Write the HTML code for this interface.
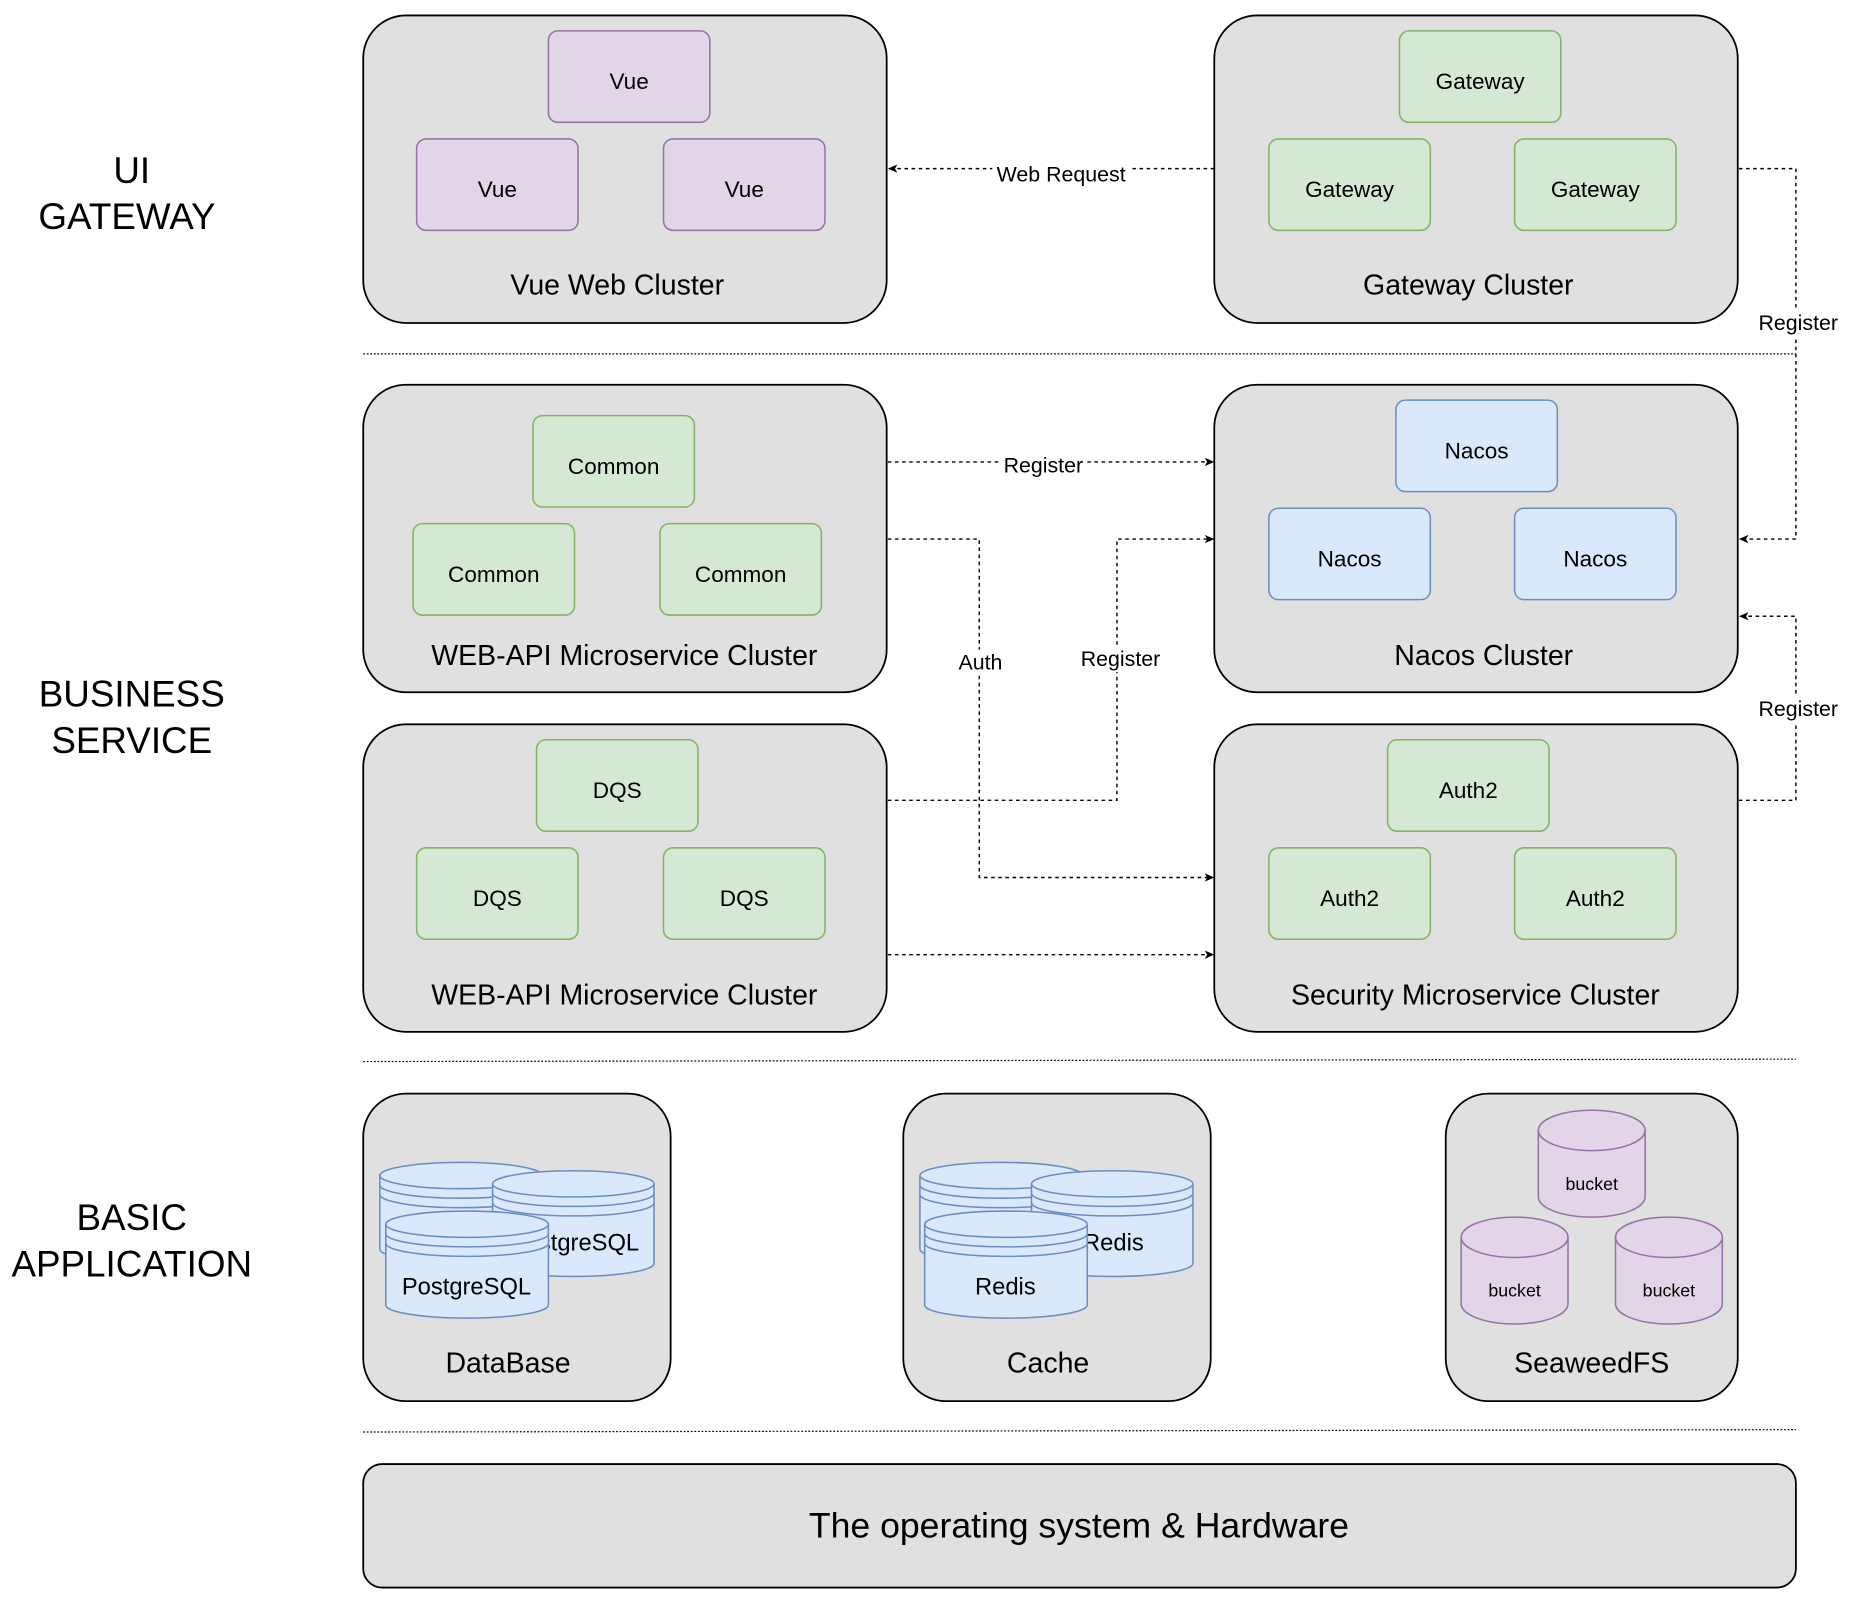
<!DOCTYPE html>
<html><head><meta charset="utf-8"><style>html,body{margin:0;padding:0;background:#fff}svg{display:block}</style></head><body>
<svg width="1860" height="1622" viewBox="0 0 1567 1366" preserveAspectRatio="none" xmlns="http://www.w3.org/2000/svg" font-family="'Liberation Sans', Arial, sans-serif">
<defs>
<marker id="a" markerWidth="8" markerHeight="8" refX="7" refY="4" orient="auto" markerUnits="userSpaceOnUse"><path d="M0,0.5 L8,4 L0,7.5 L2,4 Z" fill="#000"/></marker>
</defs>
<rect width="1567" height="1366" fill="#fff"/>
<g font-size="31" text-anchor="middle" fill="#000">
<text x="111" y="154">UI</text><text x="107" y="193">GATEWAY</text>
<text x="111" y="595">BUSINESS</text><text x="111" y="634">SERVICE</text>
<text x="111" y="1036">BASIC</text><text x="111" y="1075">APPLICATION</text>
</g>
<g stroke="#000" stroke-width="1" stroke-dasharray="1.5 1.5" fill="none">
<line x1="306" y1="298" x2="1513" y2="298"/>
<line x1="306" y1="894" x2="1513" y2="892"/>
<line x1="306" y1="1206" x2="1513" y2="1204"/>
</g>
<g fill="#e0e0e0" stroke="#000" stroke-width="1.5">
<rect x="306" y="13" width="441" height="259" rx="36"/>
<rect x="1023" y="13" width="441" height="259" rx="36"/>
<rect x="306" y="324" width="441" height="259" rx="36"/>
<rect x="1023" y="324" width="441" height="259" rx="36"/>
<rect x="306" y="610" width="441" height="259" rx="36"/>
<rect x="1023" y="610" width="441" height="259" rx="36"/>
<rect x="306" y="921" width="259" height="259" rx="36"/>
<rect x="761" y="921" width="259" height="259" rx="36"/>
<rect x="1218" y="921" width="246" height="259" rx="36"/>
<rect x="306" y="1233" width="1207" height="104" rx="16"/>
</g>
<g font-size="24" text-anchor="middle" fill="#000">
<text x="520" y="248">Vue Web Cluster</text>
<text x="1237" y="248">Gateway Cluster</text>
<text x="526" y="560">WEB-API Microservice Cluster</text>
<text x="1250" y="560">Nacos Cluster</text>
<text x="526" y="846">WEB-API Microservice Cluster</text>
<text x="1243" y="846">Security Microservice Cluster</text>
<text x="428" y="1156">DataBase</text>
<text x="883" y="1156">Cache</text>
<text x="1341" y="1156">SeaweedFS</text>
<text x="909" y="1295" font-size="30">The operating system &amp; Hardware</text>
</g>
<g stroke-width="1.3" font-size="19" text-anchor="middle">
<g fill="#e1d5e7" stroke="#9673a6">
<rect x="462" y="26" width="136" height="77" rx="8"/><rect x="351" y="117" width="136" height="77" rx="8"/><rect x="559" y="117" width="136" height="77" rx="8"/></g>
<g fill="#d5e8d4" stroke="#82b366">
<rect x="1179" y="26" width="136" height="77" rx="8"/><rect x="1069" y="117" width="136" height="77" rx="8"/><rect x="1276" y="117" width="136" height="77" rx="8"/>
<rect x="449" y="350" width="136" height="77" rx="8"/><rect x="348" y="441" width="136" height="77" rx="8"/><rect x="556" y="441" width="136" height="77" rx="8"/>
<rect x="452" y="623" width="136" height="77" rx="8"/><rect x="351" y="714" width="136" height="77" rx="8"/><rect x="559" y="714" width="136" height="77" rx="8"/>
<rect x="1169" y="623" width="136" height="77" rx="8"/><rect x="1069" y="714" width="136" height="77" rx="8"/><rect x="1276" y="714" width="136" height="77" rx="8"/></g>
<g fill="#dae8fc" stroke="#6c8ebf">
<rect x="1176" y="337" width="136" height="77" rx="8"/><rect x="1069" y="428" width="136" height="77" rx="8"/><rect x="1276" y="428" width="136" height="77" rx="8"/></g>
<g fill="#000" stroke="none">
<text x="530" y="75">Vue</text><text x="419" y="166">Vue</text><text x="627" y="166">Vue</text>
<text x="1247" y="75">Gateway</text><text x="1137" y="166">Gateway</text><text x="1344" y="166">Gateway</text>
<text x="517" y="399">Common</text><text x="416" y="490">Common</text><text x="624" y="490">Common</text>
<text x="1244" y="386">Nacos</text><text x="1137" y="477">Nacos</text><text x="1344" y="477">Nacos</text>
<text x="520" y="672">DQS</text><text x="419" y="763">DQS</text><text x="627" y="763">DQS</text>
<text x="1237" y="672">Auth2</text><text x="1137" y="763">Auth2</text><text x="1344" y="763">Auth2</text>
</g>
</g>
<!-- datastores -->
<g stroke="#6c8ebf" stroke-width="1.3">
<path fill="#dae8fc" d="M320,990 a68,11 0 0 1 137,0 v62 a68,11 0 0 1 -137,0 Z"/>
<path fill="none" d="M320,990 a68,11 0 0 0 137,0 M320,998 a68,11 0 0 0 137,0 M320,1006 a68,11 0 0 0 137,0"/>
<path fill="#dae8fc" d="M415,997 a68,11 0 0 1 136,0 v67 a68,11 0 0 1 -136,0 Z"/>
<path fill="none" d="M415,997 a68,11 0 0 0 136,0 M415,1005 a68,11 0 0 0 136,0 M415,1013 a68,11 0 0 0 136,0"/>
<path fill="#dae8fc" d="M775,990 a68,11 0 0 1 137,0 v62 a68,11 0 0 1 -137,0 Z"/>
<path fill="none" d="M775,990 a68,11 0 0 0 137,0 M775,998 a68,11 0 0 0 137,0 M775,1006 a68,11 0 0 0 137,0"/>
<path fill="#dae8fc" d="M869,997 a68,11 0 0 1 136,0 v67 a68,11 0 0 1 -136,0 Z"/>
<path fill="none" d="M869,997 a68,11 0 0 0 136,0 M869,1005 a68,11 0 0 0 136,0 M869,1013 a68,11 0 0 0 136,0"/>
</g>
<g font-size="20" text-anchor="middle" fill="#000"><text x="484" y="1053">PostgreSQL</text><text x="938" y="1053">Redis</text></g>
<g stroke="#6c8ebf" stroke-width="1.3">
<path fill="#dae8fc" d="M325,1031 a68,11 0 0 1 137,0 v68 a68,11 0 0 1 -137,0 Z"/>
<path fill="none" d="M325,1031 a68,11 0 0 0 137,0 M325,1039 a68,11 0 0 0 137,0 M325,1047 a68,11 0 0 0 137,0"/>
<path fill="#dae8fc" d="M779,1031 a68,11 0 0 1 137,0 v68 a68,11 0 0 1 -137,0 Z"/>
<path fill="none" d="M779,1031 a68,11 0 0 0 137,0 M779,1039 a68,11 0 0 0 137,0 M779,1047 a68,11 0 0 0 137,0"/>
</g>
<g font-size="20" text-anchor="middle" fill="#000"><text x="393" y="1090">PostgreSQL</text><text x="847" y="1090">Redis</text></g>
<g stroke="#9673a6" stroke-width="1.3">
<path fill="#e1d5e7" d="M1296,952 a45,17 0 0 1 90,0 v56 a45,17 0 0 1 -90,0 Z"/><path fill="none" d="M1296,952 a45,17 0 0 0 90,0"/>
<path fill="#e1d5e7" d="M1231,1042 a45,17 0 0 1 90,0 v56 a45,17 0 0 1 -90,0 Z"/><path fill="none" d="M1231,1042 a45,17 0 0 0 90,0"/>
<path fill="#e1d5e7" d="M1361,1042 a45,17 0 0 1 90,0 v56 a45,17 0 0 1 -90,0 Z"/><path fill="none" d="M1361,1042 a45,17 0 0 0 90,0"/>
</g>
<g font-size="15" text-anchor="middle" fill="#000"><text x="1341" y="1002">bucket</text><text x="1276" y="1092">bucket</text><text x="1406" y="1092">bucket</text></g>
<!-- connectors -->
<g stroke="#000" stroke-width="1.2" stroke-dasharray="3 3" fill="none" marker-end="url(#a)">
<path d="M1023,142 H749"/>
<path d="M1465,142 H1513 V454 H1466"/>
<path d="M748,389 H1022"/>
<path d="M748,454 H825 V739 H1022"/>
<path d="M748,674 H941 V454 H1022"/>
<path d="M748,804 H1022"/>
<path d="M1465,674 H1513 V519 H1466"/>
</g>
<g fill="#fff"><rect x="836" y="136" width="118" height="22"/><rect x="1478" y="261" width="74" height="22"/><rect x="842" y="381" width="74" height="22"/><rect x="806" y="547" width="40" height="22"/><rect x="907" y="544" width="74" height="22"/><rect x="1478" y="586" width="74" height="22"/></g>
<g font-size="18" text-anchor="middle" fill="#000">
<text x="894" y="153">Web Request</text><text x="1515" y="278">Register</text><text x="879" y="398">Register</text>
<text x="826" y="564">Auth</text><text x="944" y="561">Register</text><text x="1515" y="603">Register</text>
</g>
</svg>
</body></html>
